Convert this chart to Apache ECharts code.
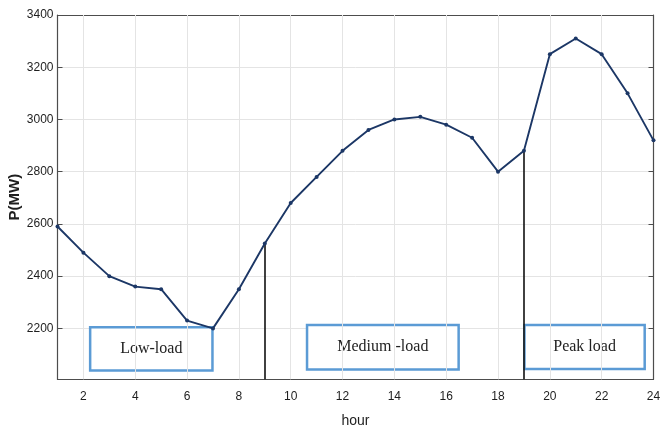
<!DOCTYPE html>
<html><head><meta charset="utf-8">
<script src="https://cdn.jsdelivr.net/npm/echarts@6/dist/echarts.min.js"></script>
<style>html,body{margin:0;padding:0;background:#fff}#c{width:661px;height:428px}</style>
</head><body><div id="c"></div>
<script>
const hours = [1,2,3,4,5,6,7,8,9,10,11,12,13,14,15,16,17,18,19,20,21,22,23,24];
const loadMW = [2590,2490,2400,2360,2350,2230,2200,2350,2525,2680,2780,2880,2960,3000,3010,2980,2930,2800,2880,3250,3310,3250,3100,2920];
const xTicks = [2,4,6,8,10,12,14,16,18,20,22,24];
const yTicks = [2200,2400,2600,2800,3000,3200,3400];
const boundaryHours = [9,19];
const periodLabels = ['Low-load','Medium -load','Peak load'];

const Y_MIN = 2005, Y_MAX = 3400;
const axisColor = '#4d4d4d';
const gridColor = '#e4e4e4';
const labelFont = {fontFamily:'Liberation Sans, Arial, sans-serif', fontSize:12, color:'#1e1e1e', formatter:v=>String(v)};

const boxes = [
  [[2.26,2204],[6.98,2039]],
  [[10.63,2213],[16.48,2043]],
  [[19.02,2213],[23.66,2044]]
];

const chart = echarts.init(document.getElementById('c'), null, {renderer:'canvas'});
const option = {
  animation:false,
  backgroundColor:'#fff',
  grid:{left:57.5, right:7.5, top:15, bottom:48.7, containLabel:false, outerBoundsMode:'none'},
  xAxis:[{
    type:'value', min:1, max:24, position:'bottom',
    name:'hour', nameLocation:'middle', nameGap:35,
    nameTextStyle:{fontFamily:'Liberation Sans, Arial, sans-serif', fontSize:14, color:'#1e1e1e'},
    axisLine:{show:true, onZero:false, lineStyle:{color:axisColor, width:1.2}},
    axisTick:{show:true, inside:true, length:5, customValues:xTicks, lineStyle:{color:axisColor}},
    axisLabel:Object.assign({customValues:xTicks, margin:11}, labelFont),
    splitLine:{show:false}
  },{
    type:'value', min:1, max:24, position:'top',
    axisLine:{show:true, onZero:false, lineStyle:{color:axisColor, width:1.2}},
    axisTick:{show:true, inside:true, length:5, customValues:xTicks, lineStyle:{color:axisColor}},
    axisLabel:{show:false}, splitLine:{show:false}
  }],
  yAxis:[{
    type:'value', min:Y_MIN, max:Y_MAX, position:'left',
    name:'P(MW)', nameLocation:'middle', nameGap:35, nameRotate:90, nameMoveOverlap:false,
    nameTextStyle:{fontFamily:'Liberation Sans, Arial, sans-serif', fontSize:15, fontWeight:'bold', color:'#1e1e1e'},
    axisLine:{show:true, onZero:false, lineStyle:{color:axisColor, width:1.2}},
    axisTick:{show:true, inside:true, length:5, customValues:yTicks, lineStyle:{color:axisColor}},
    axisLabel:Object.assign({customValues:yTicks, margin:4}, labelFont),
    splitLine:{show:true, lineStyle:{color:gridColor, width:1}}
  },{
    type:'value', min:Y_MIN, max:Y_MAX, position:'right',
    axisLine:{show:true, onZero:false, lineStyle:{color:axisColor, width:1.2}},
    axisTick:{show:true, inside:true, length:5, customValues:yTicks, lineStyle:{color:axisColor}},
    axisLabel:{show:false}, splitLine:{show:false}
  }],
  series:[{
    type:'line', data:[], z:1, silent:true,
    markLine:{
      silent:true, symbol:'none', label:{show:false},
      lineStyle:{color:gridColor, width:1, type:'solid'},
      data:xTicks.filter(v=>v<24).map(v=>({xAxis:v}))
    }
  },{
    type:'line',
    data:hours.map((h,i)=>[h, loadMW[i]]),
    symbol:'circle', symbolSize:4,
    lineStyle:{color:'#1c3766', width:1.9},
    itemStyle:{color:'#1c3766'},
    z:5,
    markLine:{
      silent:true, symbol:'none',
      lineStyle:{color:'#111', width:1.6, type:'solid'},
      label:{show:false},
      data:boundaryHours.map(h=>[{coord:[h, loadMW[hours.indexOf(h)]]},{coord:[h, Y_MIN]}])
    },
    markArea:{
      silent:true,
      itemStyle:{color:'#fff', borderColor:'#5b9bd5', borderWidth:2.5},
      label:{show:true, position:'inside', fontFamily:'Liberation Serif, Times New Roman, serif', fontSize:16, color:'#222'},
      data:boxes.map((b,i)=>[{name:periodLabels[i], coord:b[0]},{coord:b[1]}])
    }
  }]
};
chart.setOption(option);
</script>
</body></html>
